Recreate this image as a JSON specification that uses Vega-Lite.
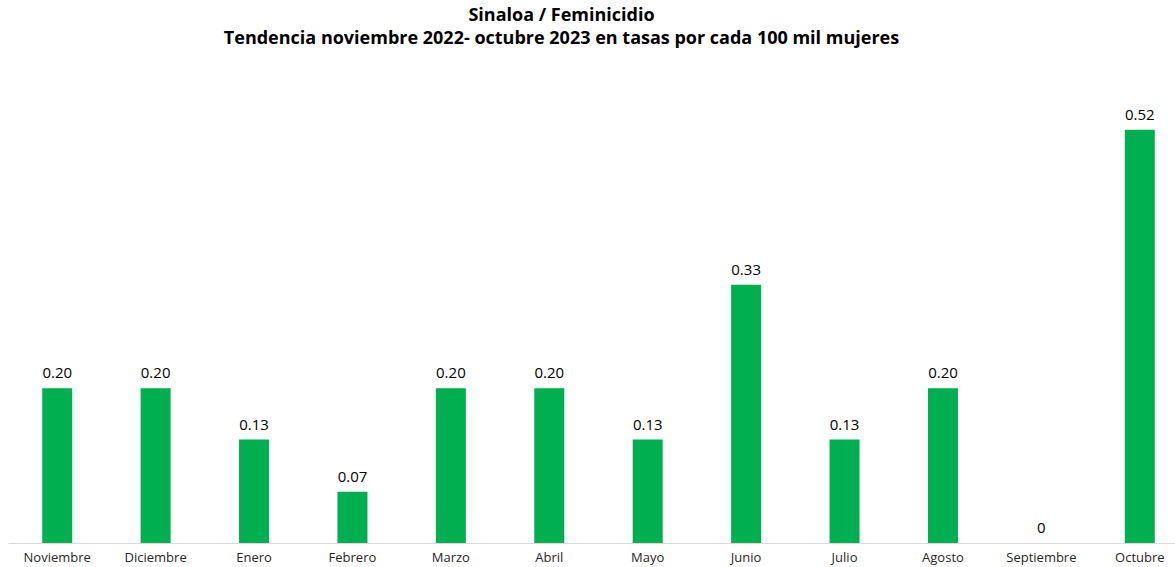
{
  "$schema": "https://vega.github.io/schema/vega-lite/v6.json",
  "autosize": {"type": "none"},
  "padding": {"left": 8, "top": 69, "right": 0, "bottom": 24},
  "width": 1181,
  "height": 474,
  "background": "white",
  "config": {"view": {"stroke": null}, "font": "Open Sans"},
  "title": {
    "text": ["Sinaloa / Feminicidio", "Tendencia noviembre 2022- octubre 2023 en tasas por cada 100 mil mujeres"],
    "fontSize": 18,
    "fontWeight": "bold",
    "font": "Open Sans",
    "color": "#000000",
    "lineHeight": 23,
    "anchor": "middle",
    "dx": -37,
    "offset": 21
  },
  "data": {
    "values": [
      {"mes": "Noviembre", "tasa": 0.196, "etiqueta": "0.20"},
      {"mes": "Diciembre", "tasa": 0.196, "etiqueta": "0.20"},
      {"mes": "Enero", "tasa": 0.131, "etiqueta": "0.13"},
      {"mes": "Febrero", "tasa": 0.065, "etiqueta": "0.07"},
      {"mes": "Marzo", "tasa": 0.196, "etiqueta": "0.20"},
      {"mes": "Abril", "tasa": 0.196, "etiqueta": "0.20"},
      {"mes": "Mayo", "tasa": 0.131, "etiqueta": "0.13"},
      {"mes": "Junio", "tasa": 0.327, "etiqueta": "0.33"},
      {"mes": "Julio", "tasa": 0.131, "etiqueta": "0.13"},
      {"mes": "Agosto", "tasa": 0.196, "etiqueta": "0.20"},
      {"mes": "Septiembre", "tasa": 0, "etiqueta": "0"},
      {"mes": "Octubre", "tasa": 0.523, "etiqueta": "0.52"}
    ]
  },
  "encoding": {
    "x": {
      "field": "mes",
      "type": "nominal",
      "sort": null,
      "scale": {"paddingInner": 0.695, "paddingOuter": 0.3475},
      "axis": {
        "title": null,
        "labelAngle": 0,
        "ticks": false,
        "labelFontSize": 13,
        "labelColor": "#262626",
        "labelPadding": 8,
        "domainColor": "#d9d9d9",
        "domainWidth": 1
      }
    },
    "y": {
      "field": "tasa",
      "type": "quantitative",
      "scale": {"domain": [0, 0.6], "nice": false},
      "axis": null
    }
  },
  "layer": [
    {"mark": {"type": "bar", "color": "#00B050"}},
    {
      "mark": {"type": "text", "baseline": "bottom", "dy": -7, "fontSize": 15, "color": "#000000"},
      "encoding": {"text": {"field": "etiqueta"}}
    }
  ]
}
